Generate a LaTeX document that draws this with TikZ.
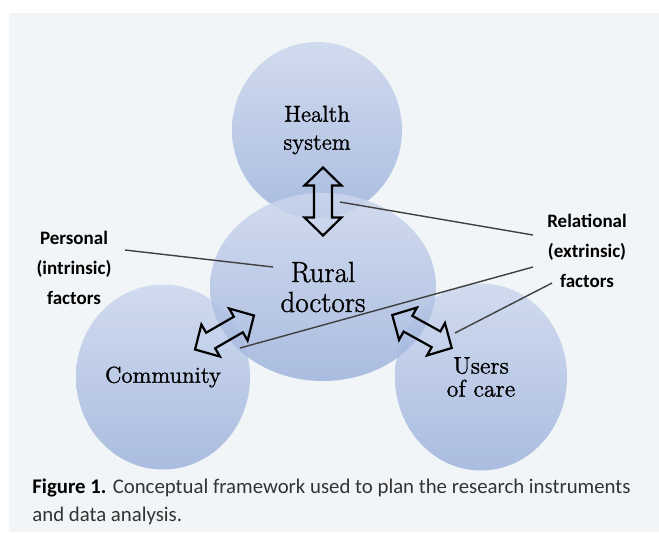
\documentclass[tikz,border=0pt]{standalone}
\usepackage{fontspec}
\newfontfamily\carlito{Carlito}
\newfontfamily\blobfont{Latin Modern Roman}[FakeBold=1.2]
\usetikzlibrary{shapes.geometric}
\definecolor{panel}{HTML}{F2F5F7}
\definecolor{blobtop}{HTML}{CCD7EE}
\definecolor{blobbot}{HTML}{9EB3DC}

\begin{document}
\begin{tikzpicture}[x=0.5pt,y=-0.5pt,
  blob/.style={ellipse,inner sep=0,top color=blobtop,bottom color=blobbot,fill opacity=.85,text opacity=1,align=center},
  twoway/.style={draw,line width=1.1pt,line join=miter},
  link/.style={draw=black!75,line width=.7pt},
  side/.style={font=\carlito\bfseries\fontsize{9.5}{15}\selectfont,align=center}]
\useasboundingbox (0,0) rectangle (659,532);
\fill[panel] (9,13) rectangle (659,532);

\node[blob,minimum width=87pt,minimum height=92.5pt,font=\blobfont\fontsize{11.5}{14}\selectfont] (community) at (163,377) {Community};
\node[blob,minimum width=86pt,minimum height=93.5pt,font=\blobfont\fontsize{12}{11.5}\selectfont] (users) at (481,377) {Users\\of care};
\node[blob,minimum width=85pt,minimum height=88pt,font=\blobfont\fontsize{11.5}{14}\selectfont] (health) at (317,130) {Health\\system};
\node[blob,minimum width=113pt,minimum height=94pt,font=\blobfont\fontsize{14.5}{15}\selectfont] (rural) at (323,287) {Rural\\doctors};

% hollow two-way arrows between the circles
\foreach \pos/\ang in {{323,201.5}/90,{224.5,332.5}/30,{422,331.5}/-29}{
  \draw[twoway,shift={(\pos)},rotate=\ang] (-34,0) -- (-16,-18.5) -- (-16,-9) -- (16,-9) -- (16,-18.5)
    -- (34,0) -- (16,18.5) -- (16,9) -- (-16,9) -- (-16,18.5) -- cycle;
}

\node[side] (personal) at (74,268) {Personal\\(intrinsic)\\factors};
\node[side] (relational) at (587,251) {Relational\\(extrinsic)\\factors};

\coordinate (p0) at (125,250);  \coordinate (p1) at (273,267);
\coordinate (r0) at (533,235);  \coordinate (r1) at (340,202);
\coordinate (r2) at (533,267);  \coordinate (r3) at (240,348);
\coordinate (r4) at (552,283);  \coordinate (r5) at (455,333);
\draw[link] (p0) -- (p1);
\draw[link] (r0) -- (r1);
\draw[link] (r2) -- (r3);
\draw[link] (r4) -- (r5);

\node[anchor=north west,align=left,inner sep=0,text=black!80,font=\carlito\fontsize{10.4}{14}\selectfont] (caption) at (32,478)
  {{\color{black}\bfseries Figure 1.} Conceptual framework used to plan the research instruments\\and data analysis.};
\end{tikzpicture}
\end{document}
